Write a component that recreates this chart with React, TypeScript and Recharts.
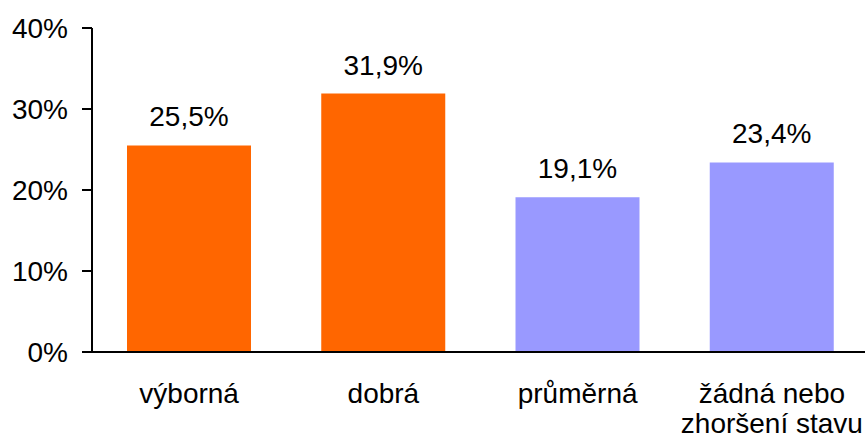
import React from "react";
import { BarChart, Bar, XAxis, YAxis, Cell, LabelList } from "recharts";

const categories = ["výborná", "dobrá", "průměrná", "žádná nebo\nzhoršení stavu"];
const values = [25.5, 31.9, 19.1, 23.4];
const colors = ["#FF6600", "#FF6600", "#9999FF", "#9999FF"];
const yTicks = [0, 10, 20, 30, 40];

const data = categories.map((c, i) => ({ name: c, value: values[i], color: colors[i] }));

const FONT = "'Liberation Sans', Arial, sans-serif";
const FS = 28;

const XTick = (props: any) => {
  const { x, y, payload } = props;
  const lines = String(payload.value).split("\n");
  return (
    <text x={x} y={y} textAnchor="middle" fill="#000" fontSize={FS} fontFamily={FONT}>
      {lines.map((l, i) => (
        <tspan key={i} x={x} dy={i === 0 ? 49 : 30}>
          {l}
        </tspan>
      ))}
    </text>
  );
};

const fmt = (v: number) => `${v.toFixed(1).replace(".", ",")}%`;

export default function App() {
  return (
    <div style={{ position: "absolute", left: 0, top: 0, width: 865, height: 440, overflow: "hidden", background: "#fff" }}>
      <BarChart
        width={869}
        height={440}
        data={data}
        margin={{ top: 28, right: 0, bottom: 0, left: 0 }}
      >
        <YAxis
          type="number"
          domain={[0, 40]}
          ticks={yTicks}
          width={92}
          axisLine={{ stroke: "#000", strokeWidth: 2 }}
          tickLine={{ stroke: "#000", strokeWidth: 2 }}
          tickSize={10}
          tickMargin={14}
          tickFormatter={(v: number) => `${v}%`}
          tick={{ fill: "#000", fontSize: FS, fontFamily: FONT }}
        />
        <XAxis
          dataKey="name"
          height={88}
          axisLine={{ stroke: "#000", strokeWidth: 2 }}
          tickLine={false}
          tickSize={0}
          tick={<XTick />}
          interval={0}
        />
        <Bar dataKey="value" barSize={124} isAnimationActive={false}>
          {data.map((d, i) => (
            <Cell key={i} fill={d.color} />
          ))}
          <LabelList
            dataKey="value"
            position="top"
            offset={19}
            formatter={(v: any) => fmt(Number(v))}
            style={{ fill: "#000", fontSize: FS, fontFamily: FONT }}
          />
        </Bar>
      </BarChart>
    </div>
  );
}
